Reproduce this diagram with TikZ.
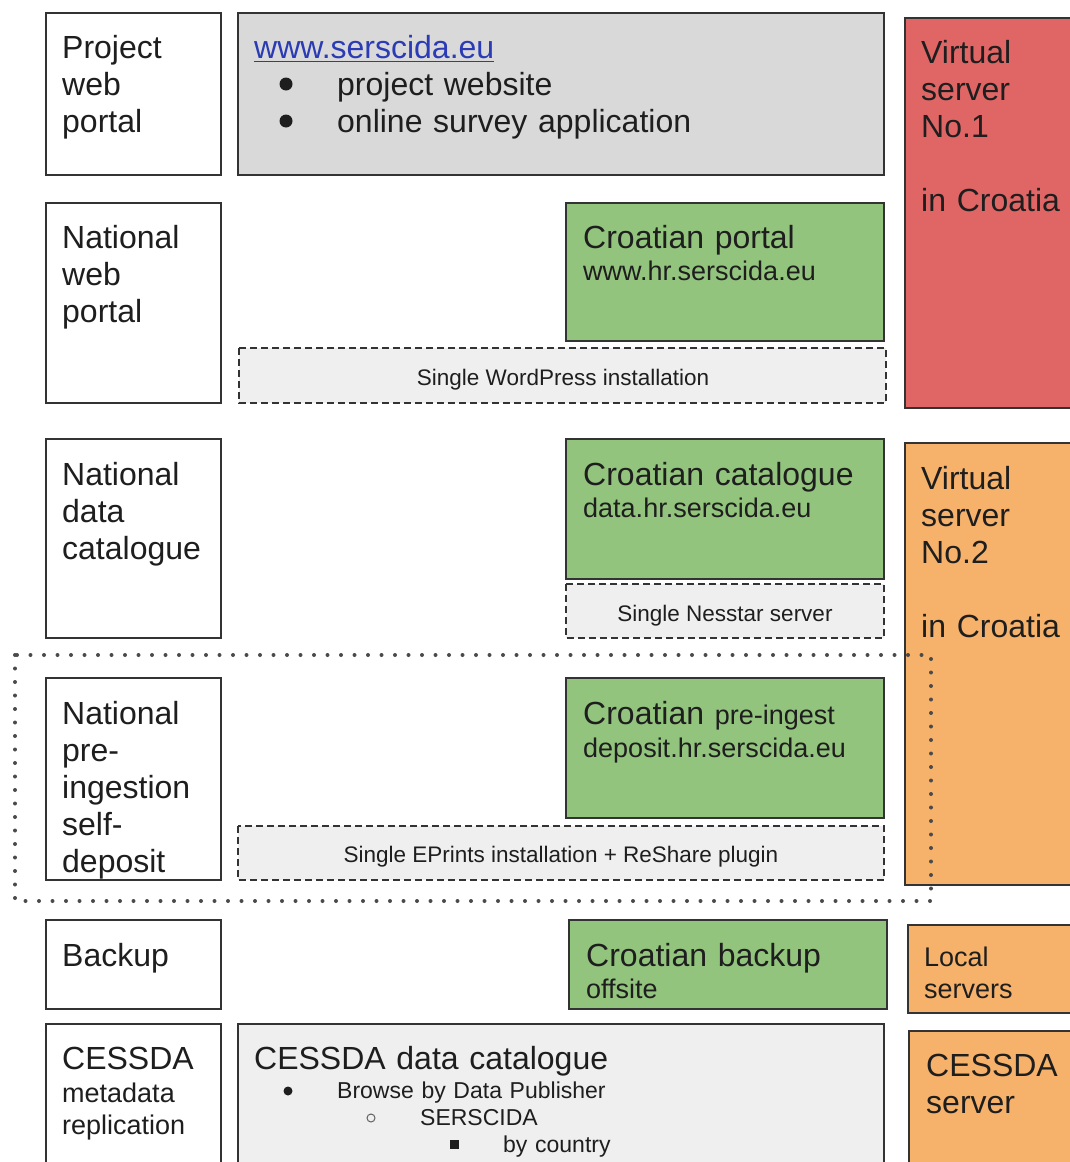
\documentclass[tikz,border=0pt]{standalone}
\usepackage{fontspec}
\setmainfont{Liberation Sans}
\definecolor{bord}{HTML}{333333}
\definecolor{txt}{HTML}{1E1E1E}
\definecolor{grayA}{HTML}{D9D9D9}
\definecolor{grayB}{HTML}{EFEFEF}
\definecolor{greenC}{HTML}{93C47D}
\definecolor{redV}{HTML}{E06666}
\definecolor{orangeV}{HTML}{F6B26B}
\definecolor{linkblue}{HTML}{2A3BB5}
\definecolor{dotc}{HTML}{4A4A4A}
\tikzset{
  box/.style={draw=bord, line width=1.5pt},
  dbox/.style={draw=bord, line width=1.3pt, fill=grayB, dash pattern=on 7pt off 4pt},
  dotbox/.style={draw=dotc, line width=4pt, line cap=round, dash pattern=on 0pt off 13.5pt},
  lbl/.style={anchor=base west, inner sep=0pt, align=left, text width=#1, text=txt},
  big/.style={font=\fontsize{32}{37}\selectfont},
  mid/.style={font=\fontsize{27}{32}\selectfont},
  sml/.style={font=\fontsize{22.5}{27}\selectfont},
  lst/.style={font=\fontsize{23}{27}\selectfont},
  ctrlabel/.style={anchor=base, inner sep=0pt, text=txt}
}
\begin{document}
\begin{tikzpicture}[x=1pt,y=-1pt]
\useasboundingbox (0,0) rectangle (1070,1162);
\fill[white] (0,0) rectangle (1070,1162);

% ---- row 1
\draw[box] (46,13) rectangle (221,175);
\draw[box, fill=grayA] (238,13) rectangle (884,175);
\draw[box, fill=redV] (905,18) rectangle (1085,408);
% ---- row 2
\draw[box] (46,203) rectangle (221,403);
\draw[box, fill=greenC] (566,203) rectangle (884,341);
\draw[dbox] (239,348) rectangle (886,403);
% ---- row 3
\draw[box] (46,439) rectangle (221,638);
\draw[box, fill=greenC] (566,439) rectangle (884,579);
\draw[dbox] (566,584) rectangle (884,638);
\draw[box, fill=orangeV] (905,443) rectangle (1085,885);
% ---- row 4
\draw[box] (46,678) rectangle (221,880);
\draw[box, fill=greenC] (566,678) rectangle (884,818);
\draw[dbox] (238,826) rectangle (884,880);
% dotted frame
\draw[dotbox] (15,655) rectangle (931,901);
% ---- row 5
\draw[box] (46,920) rectangle (221,1009);
\draw[box, fill=greenC] (569,920) rectangle (887,1009);
\draw[box, fill=orangeV] (908,925) rectangle (1085,1013);
% ---- row 6
\draw[box] (46,1024) rectangle (221,1180);
\draw[box, fill=grayB] (238,1024) rectangle (884,1180);
\draw[box, fill=orangeV] (909,1031) rectangle (1085,1180);

% ---- texts row 1
\node[lbl=160, big] (tProj) at (62,58) {Project\\web\\portal};
\node[anchor=base west, inner sep=0pt, big, text=linkblue] (tLink) at (254,58) {www.serscida.eu};
\draw[linkblue, line width=1.5pt] ([yshift=-3.5pt]tLink.base west) -- ([yshift=-3.5pt]tLink.base east);
\fill[txt] (286,84) circle (6.5);
\fill[txt] (286,121) circle (6.5);
\node[lbl=500, big] (tB1) at (337,95) {project website};
\node[lbl=500, big] (tB2) at (337,132) {online survey application};
\node[lbl=150, big] (tVS1) at (921,63) {Virtual\\server\\No.1\\[37pt]in Croatia};

% ---- row 2
\node[lbl=160, big] (tNWP) at (62,248) {National\\web\\portal};
\node[lbl=300, big] (tCP) at (583,248) {Croatian portal};
\node[lbl=300, mid] (tCPu) at (583,280) {www.hr.serscida.eu};
\node[ctrlabel, sml] (tWP) at (563,385) {Single WordPress installation};

% ---- row 3
\node[lbl=160, big] (tNDC) at (62,485) {National\\data\\catalogue};
\node[lbl=300, big] (tCC) at (583,485) {Croatian catalogue};
\node[lbl=300, mid] (tCCu) at (583,517) {data.hr.serscida.eu};
\node[ctrlabel, sml] (tNS) at (725,621) {Single Nesstar server};
\node[lbl=150, big] (tVS2) at (921,489) {Virtual\\server\\No.2\\[37pt]in Croatia};

% ---- row 4
\node[lbl=160, big] (tNPI) at (62,724) {National\\pre-\\ingestion\\self-\\deposit};
\node[lbl=300, big] (tCPI) at (583,724) {Croatian{\fontsize{27}{32}\selectfont\ pre-ingest}};
\node[lbl=300, mid] (tCPIu) at (583,757) {deposit.hr.serscida.eu};
\node[ctrlabel, sml] (tEP) at (561,862) {Single EPrints installation + ReShare plugin};

% ---- row 5
\node[lbl=160, big] (tBk) at (62,966) {Backup};
\node[lbl=300, big] (tCB) at (586,966) {Croatian backup};
\node[lbl=300, mid] (tCBo) at (586,998) {offsite};
\node[lbl=150, mid] (tLS) at (924,966) {Local\\servers};

% ---- row 6
\node[lbl=160, big] (tCE) at (62,1069) {CESSDA};
\node[lbl=160, mid] (tCEs) at (62,1102) {metadata\\replication};
\node[lbl=500, big] (tCDC) at (254,1069) {CESSDA data catalogue};
\fill[txt] (288,1091) circle (4.5);
\node[lbl=400, lst] (tBr) at (337,1098) {Browse by Data Publisher};
\draw[txt!70, line width=1pt] (371,1118) circle (4);
\node[lbl=300, lst] (tSe) at (420,1125) {SERSCIDA};
\fill[txt] (449.5,1140) rectangle (458.5,1149);
\node[lbl=300, lst] (tBc) at (503,1152) {by country};
\node[lbl=150, big] (tCS) at (926,1076) {CESSDA\\server};
\end{tikzpicture}
\end{document}
